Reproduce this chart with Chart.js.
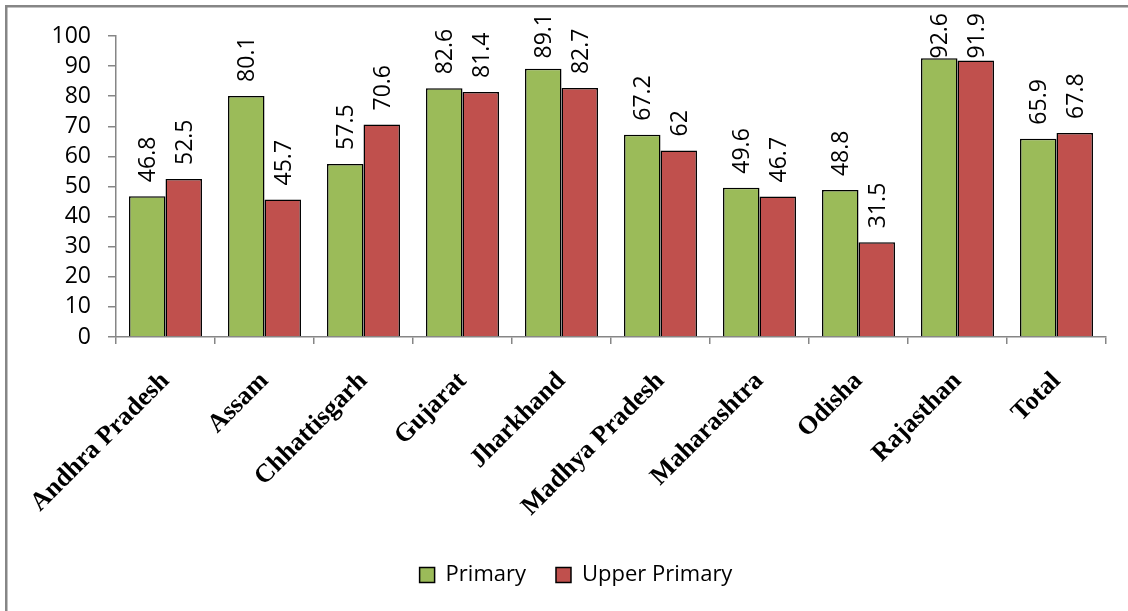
<!DOCTYPE html>
<html>
<head>
<meta charset="utf-8">
<script src="https://cdn.jsdelivr.net/npm/chart.js@4.4.1/dist/chart.umd.min.js"></script>
<style>
  html, body { margin: 0; padding: 0; background: #ffffff; overflow: hidden; }
  #wrap { position: relative; width: 1128px; height: 611px; }
</style>
</head>
<body>
<div id="wrap"><canvas id="chart" width="1128" height="611"></canvas></div>
<script>
// States and the two school levels compared for each
const states = ['Andhra Pradesh', 'Assam', 'Chhattisgarh', 'Gujarat', 'Jharkhand',
  'Madhya Pradesh', 'Maharashtra', 'Odisha', 'Rajasthan', 'Total'];
const primary = [46.8, 80.1, 57.5, 82.6, 89.1, 67.2, 49.6, 48.8, 92.6, 65.9];
const upperPrimary = [52.5, 45.7, 70.6, 81.4, 82.7, 62, 46.7, 31.5, 91.9, 67.8];
const yTicks = [0, 10, 20, 30, 40, 50, 60, 70, 80, 90, 100];

const AXIS_GREY = '#868686';
const LABEL_FONT = '"Open Sans", "Liberation Sans", sans-serif';

// Grey frame around the whole chart
const frame = {
  id: 'frame',
  beforeDraw(chart) {
    const ctx = chart.ctx;
    ctx.save();
    ctx.fillStyle = '#ffffff';
    ctx.fillRect(0, 0, chart.width, chart.height);
    ctx.strokeStyle = AXIS_GREY;
    ctx.lineWidth = 2.5;
    ctx.strokeRect(6.25, 6.25, chart.width + 20, chart.height + 20);
    ctx.restore();
  }
};

// Vertical value labels above each bar, kept inside the top of the canvas
const barValues = {
  id: 'barValues',
  afterDatasetsDraw(chart) {
    const ctx = chart.ctx;
    ctx.save();
    ctx.font = '23px ' + LABEL_FONT;
    ctx.fillStyle = '#000000';
    ctx.textAlign = 'left';
    ctx.textBaseline = 'alphabetic';
    const capHalf = 23 * 0.714 / 2;
    chart.data.datasets.forEach((ds, i) => {
      const meta = chart.getDatasetMeta(i);
      meta.data.forEach((bar, j) => {
        const text = String(ds.data[j]);
        const w = ctx.measureText(text).width;
        let start = bar.y - 14;
        if (start - w < 13) start = 13 + w;
        ctx.save();
        ctx.translate(bar.x, start);
        ctx.rotate(-Math.PI / 2);
        ctx.fillText(text, 0, capHalf);
        ctx.restore();
      });
    });
    ctx.restore();
  }
};

new Chart(document.getElementById('chart'), {
  type: 'bar',
  data: {
    labels: states,
    datasets: [
      {
        label: 'Primary',
        data: primary,
        backgroundColor: '#9BBB59',
        borderColor: '#000000',
        borderWidth: 1.5,
        categoryPercentage: 0.737,
        barPercentage: 1.0
      },
      {
        label: 'Upper Primary',
        data: upperPrimary,
        backgroundColor: '#C0504D',
        borderColor: '#000000',
        borderWidth: 1.5,
        categoryPercentage: 0.737,
        barPercentage: 1.0
      }
    ]
  },
  options: {
    responsive: false,
    animation: false,
    devicePixelRatio: 1,
    layout: { padding: { left: 46, top: 36, right: 22, bottom: 15 } },
    plugins: {
      legend: {
        position: 'bottom',
        labels: {
          boxWidth: 15,
          boxHeight: 15,
          padding: 30,
          color: '#000000',
          font: { family: LABEL_FONT, size: 22 },
          generateLabels(chart) {
            return chart.data.datasets.map((ds, i) => ({
              text: ds.label,
              fillStyle: ds.backgroundColor,
              strokeStyle: '#000000',
              lineWidth: 1.5,
              hidden: false,
              datasetIndex: i
            }));
          }
        }
      },
      tooltip: { enabled: false }
    },
    scales: {
      x: {
        grid: {
          offset: true,
          drawOnChartArea: false,
          drawTicks: true,
          tickLength: 7,
          color: AXIS_GREY,
          lineWidth: 1.5
        },
        border: { color: AXIS_GREY, width: 1.5 },
        ticks: {
          minRotation: 45,
          maxRotation: 45,
          autoSkip: false,
          padding: 22,
          color: '#000000',
          font: { family: '"Liberation Serif", "Times New Roman", serif', size: 26, weight: 'bold' }
        },
        afterFit(scale) { scale.height = 197; }
      },
      y: {
        min: 0,
        max: 100,
        afterBuildTicks(scale) { scale.ticks = yTicks.map(v => ({ value: v })); },
        grid: {
          drawOnChartArea: false,
          drawTicks: true,
          tickLength: 8,
          color: AXIS_GREY,
          lineWidth: 1.5
        },
        border: { color: AXIS_GREY, width: 1.5 },
        ticks: {
          autoSkip: false,
          stepSize: 10,
          padding: 17,
          color: '#000000',
          font: { family: LABEL_FONT, size: 23 }
        },
        afterFit(scale) { scale.width = 70; }
      }
    }
  },
  plugins: [frame, barValues]
});
</script>
</body>
</html>
